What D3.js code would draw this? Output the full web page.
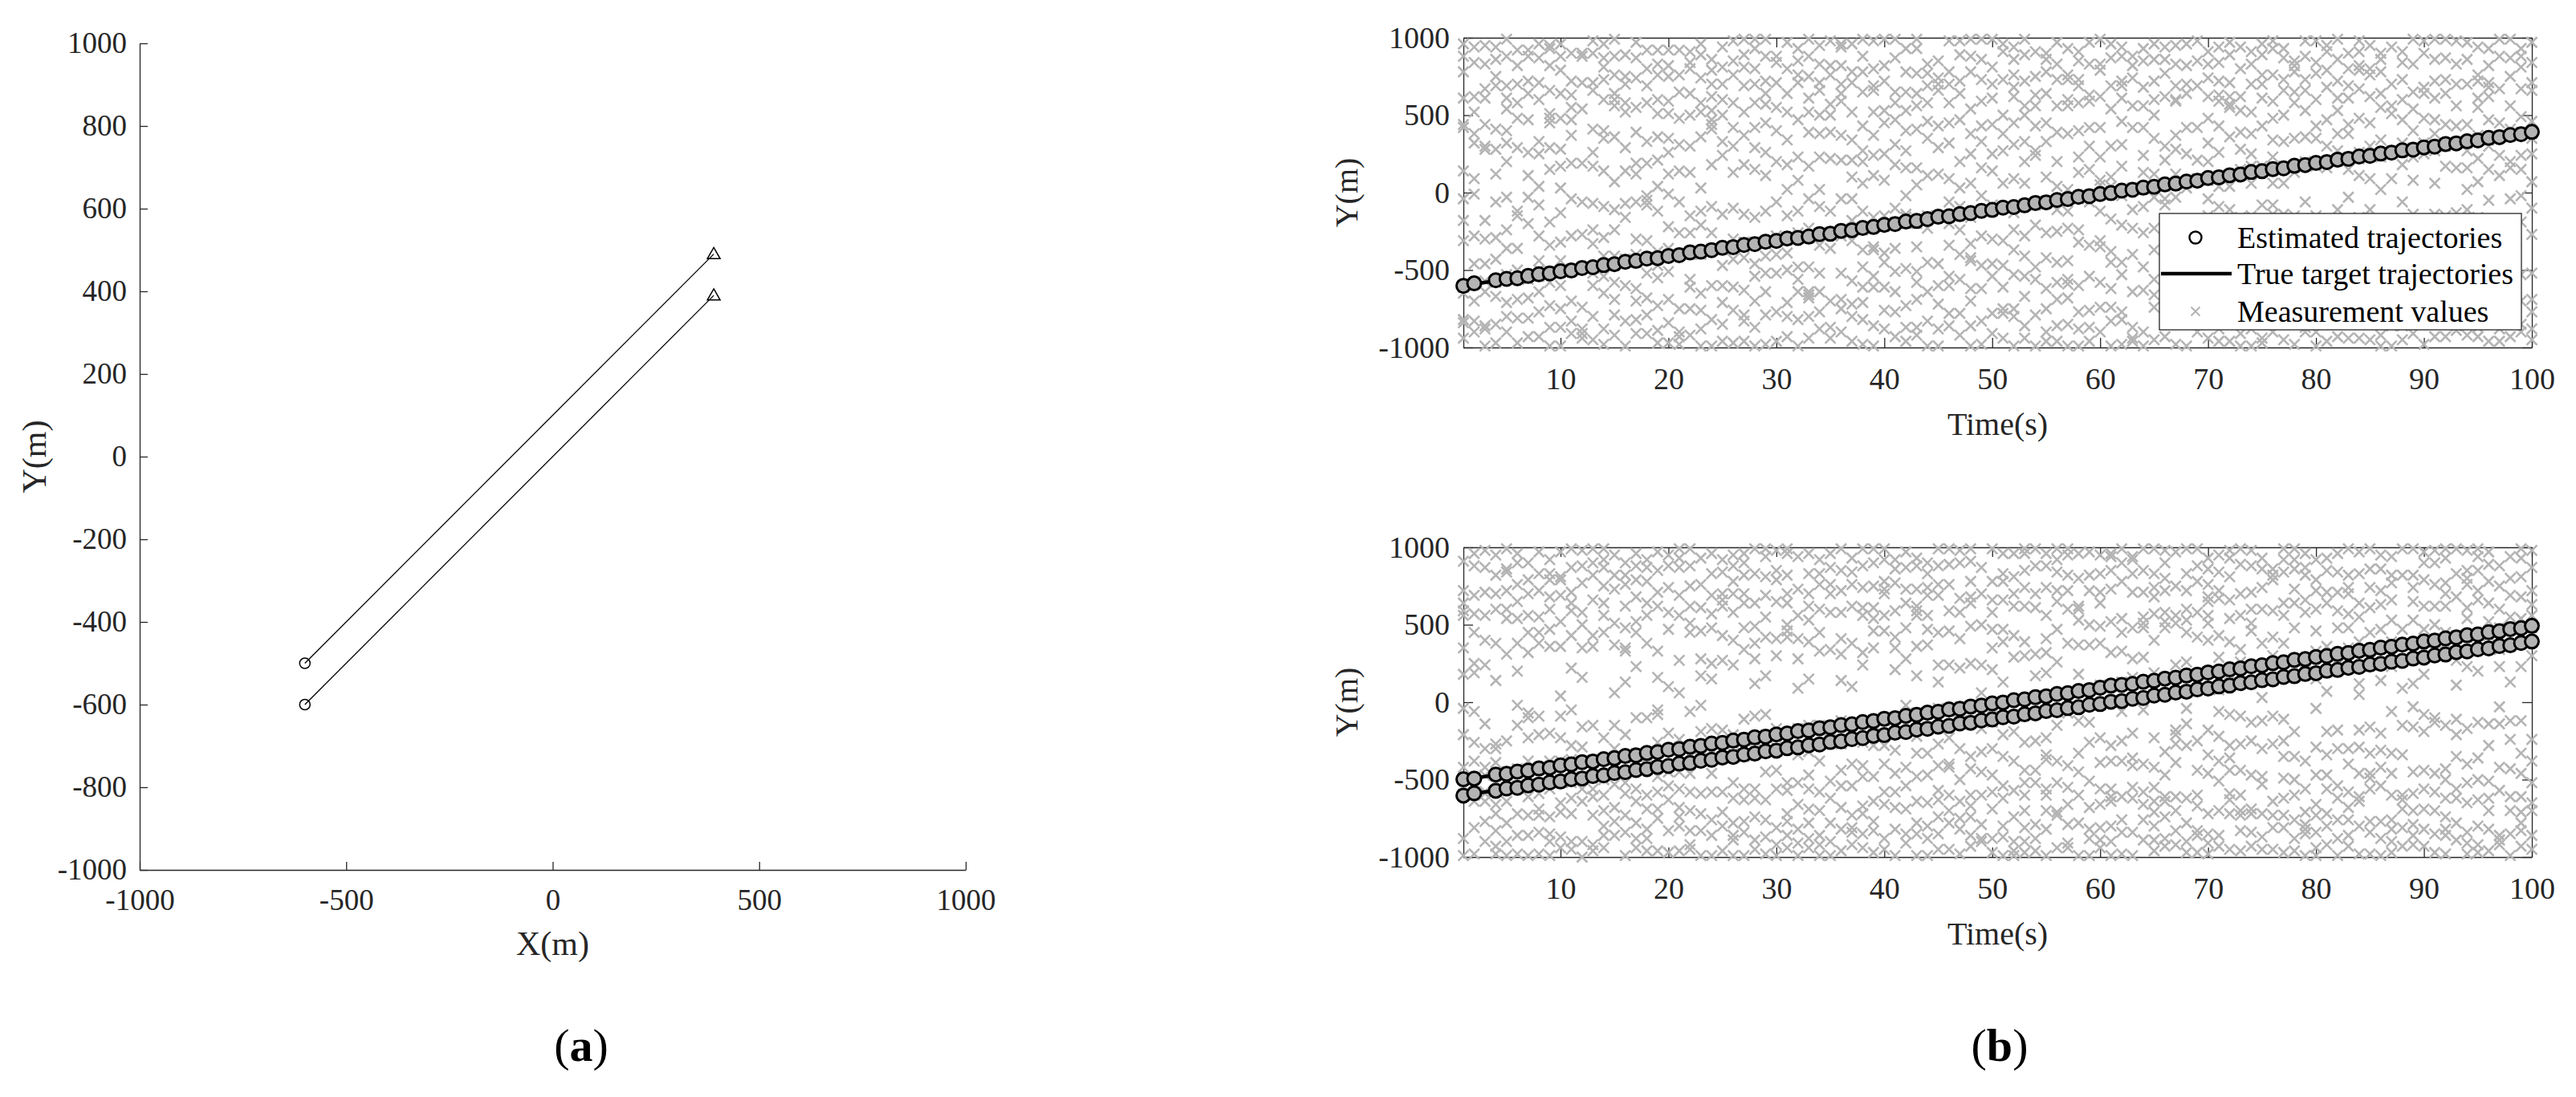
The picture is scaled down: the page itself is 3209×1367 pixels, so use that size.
<!DOCTYPE html>
<html>
<head>
<meta charset="utf-8">
<script src="https://cdn.jsdelivr.net/npm/d3@7"></script>
<style>
  body { margin: 0; background: #fff; }
  svg { display: block; }
</style>
</head>
<body>
<div id="wrapper"></div>
<script>
// ---- panel (a): trajectories in the X-Y plane ----
const trajStartX = [-600, -600];
const trajStartY = [-500, -600];
const trajEndX = [390, 390];
const trajEndY = [490, 390];
const aTicksX = [-1000, -500, 0, 500, 1000];
const aTicksY = [-1000, -800, -600, -400, -200, 0, 200, 400, 600, 800, 1000];

// ---- panel (b): Y position against time ----
const bTicksT = [10, 20, 30, 40, 50, 60, 70, 80, 90, 100];
const bTicksY = [-1000, -500, 0, 500, 1000];
const legendLabels = ["Estimated trajectories", "True target trajectories", "Measurement values"];

// true tracks, as [time, y] vertices
const trueTop = [[[1, -600], [100, 390]]];
const trueBot = [[[1, -500], [100, 490]], [[1, -600], [100, 390]]];

// estimated positions, one per time step (null = no estimate)
const estTop = [-602,-586,null,-566,-557,-553,-538,-527,-522,-508,
  -503,-487,-482,-468,-462,-447,-441,-426,-423,-409,
  -404,-386,-381,-372,-356,-352,-338,-333,-317,-312,
  -296,-293,-284,-268,-266,-247,-243,-228,-222,-208,
  -203,-187,-183,-171,-156,-153,-139,-132,-118,-112,
  -97,-93,-82,-67,-63,-48,-42,-27,-23,-9,
  -3,13,18,32,37,53,58,71,77,94,
  98,112,117,133,138,152,157,173,178,192,
  197,213,218,233,237,252,258,273,277,292,
  297,314,318,331,337,353,358,372,377,392];
const estBotA = [-498,-493,null,-467,-463,-448,-442,-428,-423,-408,
  -402,-387,-383,-368,-362,-347,-343,-328,-322,-307,
  -303,-288,-282,-267,-263,-248,-242,-227,-223,-208,
  -202,-187,-183,-168,-162,-148,-143,-128,-122,-107,
  -103,-88,-82,-68,-62,-47,-43,-28,-22,-8,
  -2,13,18,32,38,53,58,72,78,93,
  107,112,118,132,138,152,158,172,178,192,
  198,212,218,232,238,252,258,273,278,292,
  298,312,318,332,338,352,358,372,378,392,
  398,412,418,432,438,452,458,472,478,493];
const estBotB = [-603,-588,null,-572,-557,-553,-537,-532,-518,-512,
  -497,-493,-477,-473,-457,-452,-438,-432,-418,-412,
  -397,-393,-378,-372,-357,-353,-338,-332,-317,-313,
  -297,-292,-278,-273,-257,-253,-238,-232,-217,-213,
  -197,-193,-177,-172,-158,-153,-137,-133,-118,-112,
  -97,-93,-78,-72,-57,-52,-38,-33,-17,-12,
  3,7,22,27,43,48,62,68,83,88,
  102,107,123,128,142,148,163,168,182,187,
  203,208,222,228,243,248,262,267,282,288,
  302,308,323,328,342,347,363,368,382,392];

// target-originated measurements, one per time step
const measTrackTop = [-612,-583,-571,-578,-548,-556,-529,-541,-509,-517,
  -493,-482,-489,-461,-471,-442,-449,-418,-432,-403,
  -396,-379,-392,-361,-368,-341,-352,-322,-331,-302,
  -307,-281,-293,-262,-255,-258,-232,-241,-213,-219,
  -191,-199,-172,-178,-152,-161,-131,-138,-112,-121,
  -92,-99,-73,-81,-51,-58,-33,-41,-12,-18,
  9,2,28,21,49,41,68,61,88,79,
  109,101,128,119,147,141,168,161,187,179,
  206,202,229,219,249,241,268,259,288,281,
  308,299,327,321,349,339,367,362,388,381];
const measTrackBotA = [-489,-496,-472,-479,-452,-461,-432,-437,-418,-401,
  -391,-383,-372,-378,-351,-359,-333,-341,-317,-306,
  -289,-297,-274,-268,-252,-259,-231,-243,-212,-218,
  -196,-188,-172,-179,-152,-158,-138,-131,-113,-119,
  -98,-91,-69,-77,-52,-58,-31,-39,-13,-22,
  4,8,22,31,41,49,62,68,79,91,
  103,109,121,128,139,151,161,168,181,189,
  199,212,219,228,242,249,258,269,281,288,
  302,309,322,331,339,351,358,372,379,392,
  398,411,419,432,438,452,459,471,482,488];
const measTrackBotB = [-593,-601,-577,-571,-563,-549,-545,-528,-524,-511,
  -497,-493,-476,-472,-458,-451,-437,-432,-418,-408,
  -403,-386,-383,-372,-362,-348,-344,-329,-323,-313,
  -302,-288,-282,-268,-263,-252,-238,-232,-219,-213,
  -198,-193,-177,-173,-162,-147,-143,-128,-122,-113,
  -98,-87,-83,-67,-64,-48,-42,-33,-18,-12,
  2,7,23,27,42,48,61,73,78,92,
  97,112,118,127,143,147,163,168,177,193,
  198,212,218,232,237,252,257,271,278,293,
  298,309,323,327,342,348,361,368,383,388];

const clutterTop = [
[780,-820,420,-310,960,-650,140,-40,610,-940,440,-840,880,-180],
[940,-280,320,-700,620,-900,90,-460,840,-10,520,-830,380],
[670,-460,950,-860,280,-180,830,-640,440,-990,610,-300,300,-880],
[860,-560,410,-850,690,-290,120,-670,940,-60,280,-970,750,-430],
[540,-710,990,-360,400,-900,200,-530,690,-30,880,-800,320,-240,610],
[700,-500,290,-810,920,-360,480,-970,820,-150,-120,-690,580],
[720,-810,470,-30,920,-560,260,-930,640,-200,110,-680,880],
[710,-280,870,-640,40,-500,600,-930,330,-80,960,-770,250,-440],
[950,-580,820,-870,480,-190,660,-340,150,-990,930,-730,290,450,510],
[960,-130,640,-440,280,-870,790,-600,30,-320,480,-990,880,-750,170],
[630,-830,550,-500,190,-700,900,-280,370,-40,720,-910,470],
[540,-480,900,-740,190,-270,710,-910,-940,-60,880,-880],
[710,-330,900,-950,260,-520,660,-70,410,-800,170,-600,980,-240],
[870,-90,730,-540,350,-880,600,-290,140,-980,810,-410,960,-650,400],
[760,-410,880,-690,70,-240,560,-920,360,-580,990,-110,640,-790,600],
[750,-160,520,-600,890,-990,290,-430,700,-70,140,-830,580],
[970,-300,190,-700,870,-910,550,-60,390,-620,740,-820,120,-400],
[920,-790,330,-50,580,-520,800,-310,190,-910,690,-680,-20,-80],
[600,-890,830,-380,210,-470,920,-730,510,-120,360,-970,760,-550,40],
[820,-360,510,-690,120,-970,750,-220,350,-840,590,-10,920,-510,260],
[650,-900,480,-60,920,-750,310,-400,760,-260,140,-980,-930],
[800,-610,500,-150,910,-750,300,-920,640,-400,130,-560,840,-260],
[580,-880,360,-210,890,-650,30,-990,740,-400,520,-120,960,-760],
[700,-600,860,-90,440,-820,620,-370,180,-990,790,-260,530,470,410],
[940,-710,330,-470,600,-140,810,-850,240,-600,700,-960,500],
[980,-300,760,-610,420,-100,130,-970,580,-760,300,-430,850],
[890,-420,180,-830,690,-140,520,-960,810,-320,370,-630,990,-790],
[990,-540,700,-160,580,-870,290,-700,930,-320,420,-990,800,-460,150],
[570,-980,720,-330,450,-120,880,-790,260,-520,990,-640,110,-410,640],
[840,-960,400,-310,710,-520,200,-770,550,-60,880,-400,-280],
[640,-710,970,-150,340,-500,800,-930,180,-390,520,-800,20],
[850,-480,710,-820,230,-260,930,-640,470,-990,80,-120,760,-560],
[990,-680,610,-230,170,-940,750,-480,390,-800,520,-40,880,-640,-660],
[950,-520,710,-260,380,-880,20,-640,830,-90,500,-770,230,-340,660],
[820,-870,220,-120,570,-700,980,-360,390,-940,760,-260,500],
[640,-750,370,-280,960,-520,210,-900,700,-40,590,-690,820,940],
[780,-570,210,-800,960,-310,520,-40,340,-960,710,-720,100,-180],
[990,-370,270,-820,650,-120,780,-610,430,-980,60,-480,880,-710,200],
[980,-610,370,-160,690,-860,240,-350,520,-990,110,800,-540,660,-370],
[820,-760,530,-450,80,-610,990,-880,250,-150,720,-390,450],
[650,-770,180,-360,990,-640,470,-100,870,-930,310,-510,580,-200],
[930,-730,400,-140,650,-870,270,-490,780,-20,530,-960,160,-160],
[930,-510,160,-870,560,-350,770,-690,50,-920,640,-200,990,-580,410],
[830,-640,460,-830,690,-230,110,-990,770,-450,350,-150,580],
[740,-460,120,-880,660,-150,430,-720,850,-990,290,-600,700],
[780,-540,320,-60,980,-780,580,-340,90,-860,700,-600,450,-200],
[640,-560,890,-240,30,-780,470,-920,200,720,-400,-90,980],
[880,-440,250,-860,540,-160,780,-620,60,-990,380,-330,990,-700,-420],
[590,-280,860,-980,430,-620,160,-470,730,-830,990,-20,330],
[990,-460,250,-910,610,-80,440,-780,810,-300,140,-540,700],
[960,-780,270,-470,730,-310,60,-940,500,-610,910,-100,380,-750],
[620,-240,860,-750,90,-990,680,-530,450,-130,940,-800,310,-370,760],
[560,-670,200,-410,890,-860,60,-280,720,-540,990,-80,330,-940,500],
[560,-990,750,-210,430,-560,910,-60,270,-790,630,-480,240],
[860,-900,450,-420,640,-260,900,-750,100,-620,780,-70,330,-960],
[830,-450,560,-960,200,-690,970,-250,390,-580,730,-110,40,-860],
[560,-120,760,-680,380,-990,600,-440,930,-850,20,-230,730,-560,-590],
[910,-320,580,-770,230,-600,850,-20,400,-880,690,-240,130,-990,730],
[630,-870,150,-540,970,-60,420,-760,830,-340,590,-960,300],
[790,-350,420,-900,830,-580,50,-120,620,-740,990,-310,230,80],
[870,-380,100,-740,540,-990,690,-170,300,-620,960,-450,40,-830],
[610,-450,940,-980,310,-210,720,-820,460,-20,880,-530,170,-770,690],
[880,-110,560,-960,740,-640,30,-400,820,-870,420,-230,-940],
[850,-990,420,-260,130,-630,680,-900,560,-90,930,-480,240],
[720,-660,960,-30,500,-560,350,-950,860,-230,120,-740,600,-370],
[860,-250,300,-930,620,-580,50,770,-410,940,-720,210,-80,-40],
[600,-170,830,-710,370,-980,590,-300,950,-500,120,-770,690,-30,280],
[960,-420,640,-810,250,-990,820,-570,420,-250,30,-730,700],
[690,-250,980,-810,210,-530,850,-380,420,-900,90,-640,-220],
[620,-940,740,-250,200,-640,910,-40,480,-790,320,-470,830,-150],
[590,-960,720,-180,260,-560,940,-380,630,-880,40,-720,840,-90,430],
[890,-640,550,-380,40,-960,710,-240,360,-570,970,-110,620,-810,570],
[940,-230,620,-910,390,-650,800,-440,150,-990,530,-160,280],
[910,-700,250,-460,700,-880,60,520,-150,380,-990,830,-330,170],
[760,-650,960,-210,170,-570,700,-940,430,-360,610,-80,890,-970],
[930,-720,230,-540,590,-80,980,-360,340,-900,760,-630,480,-140,60],
[730,-140,500,-820,930,-370,60,-640,660,-950,330,-230,870,-720,170],
[780,-210,580,-980,130,-690,850,-420,350,-850,650,-150,820],
[880,-870,530,-60,730,-620,200,-430,980,-260,360,-900,660,-520],
[840,-150,600,-900,350,-470,980,-720,170,-310,770,-990,430,-620],
[950,-610,470,-400,790,-960,160,-720,680,-180,300,-850,910,-320,-350],
[720,-380,990,-640,270,-800,530,-110,860,-560,380,-930,610],
[690,-820,380,-170,900,-540,150,-720,610,-30,440,-940,800],
[910,-590,110,-940,820,-330,480,-790,670,-160,260,-630,980,790],
[760,-950,90,-520,620,-190,950,-680,300,-430,800,-840,450,-110],
[900,-620,340,-190,780,-920,550,-430,20,-700,860,-290,640,-990,230],
[560,-990,940,-680,510,-200,270,-760,700,-460,90,-860,-220],
[600,-950,320,-520,840,-60,470,-700,910,-280,180,-860,730],
[990,-730,400,-290,650,-560,830,-140,230,-910,540,-660,80,-390],
[680,-840,900,-500,320,-170,640,-760,980,-320,480,-980,250,-580,-530],
[610,-350,990,-670,270,-930,470,-140,720,-790,60,-420,860,-580,380],
[870,-150,440,-690,730,-930,170,-260,640,-810,990,-420,310],
[700,-890,160,-470,980,-130,430,-620,830,-300,560,-860],
[970,-560,160,-380,700,-840,440,-110,860,-650,270,-920,20,-460],
[720,-930,370,-700,70,-330,760,-160,550,-870,940,-490,220,-680,610],
[820,-600,150,-340,710,-960,470,-50,930,-720,300,-470,620,-180,680],
[880,-330,360,-740,990,-540,110,-880,670,-190,450,-960,240],
[750,-420,990,-930,410,-290,160,-660,870,-40,560,-780,200,-500],
[670,-900,390,-190,810,-700,240,-530,930,-20,490,-850,150,880],
[660,-770,970,-520,250,-880,70,-270,840,-690,460,-100,710,-950,350]
];
const clutterBot = [
[-880,640,-210,350,-560,910,-40,720,-990,180,-420,560,590],
[-640,960,-980,250,-380,690,-520,450,-60,880,-810,190,-260,570],
[-640,560,-300,980,-900,240,-590,710,-140,870,-770,400,-420],
[-930,950,-270,600,-720,380,-980,820,-510,140,-830,700,-390,-300,-660],
[-560,990,-900,720,-250,600,-780,860,-470,310,-990,540,-640,840],
[-980,200,-430,760,-720,540,-150,900,-860,380,-20,650,-540,960],
[-610,700,-860,560,-100,900,-730,320,-990,450,-380,790,-230,-70],
[-840,450,-590,830,-90,970,-690,380,-980,720,-210,550,-730],
[-850,600,-470,830,-990,360,-740,920,-200,680,-560,470,-900,790,-380],
[-710,810,-380,520,-940,40,-650,690,-230,970,-500,360,-870,790,-90],
[-620,430,-900,710,-50,990,-370,590,-720,220,-520,870,-280,640,-950],
[-640,770,-480,350,-900,980,-290,580,-1000,160,-560,880,-160,500],
[-610,990,-730,430,-150,820,-920,660,-450,360,-560,900,-960],
[-860,990,-700,560,-420,870,-940,750,-600,920,-230,640,-800,450,-500],
[-770,510,-430,730,-860,60,-300,950,-680,370,-150,820,-530],
[-990,820,-520,350,-840,620,-210,900,-730,130,-360,760,-590,480,330],
[-560,680,-780,960,-350,520,-880,230,-640,790,-100,450,-940,880],
[-820,870,-600,560,-960,380,-410,780,-690,920,-100,640,-880],
[-750,620,-80,850,-480,330,-960,710,-260,160,-690,970,-580,-50],
[-830,880,-300,470,-970,740,-450,100,-630,950,-200,580,-540],
[-680,990,-240,560,-960,270,-740,870,-450,60,-800,690,-340,930,-560],
[-580,880,-950,450,-700,990,-330,620,-830,510,-460,750,-60,-920],
[-990,460,-590,170,-830,760,-20,930,-360,610,-720,280,-190],
[-860,690,-580,960,-330,250,-760,480,-990,830,-170,570,-460,150],
[-960,620,-180,840,-580,430,-800,920,-350,270,-710,700,660],
[-860,700,-520,950,-780,240,-330,880,-990,580,-620,400,-890,780,-210],
[-770,900,-560,640,-990,820,-350,480,-840,960,-630,700,-110,340],
[-890,640,-90,990,-560,280,-740,830,-230,490,-950,120,-620,380,-250],
[-760,420,-980,690,-280,940,-630,550,-80,810,-450,170,-870,990],
[-810,790,-920,410,-170,980,-560,650,-440,300,-990,850,-290],
[-940,640,-720,960,-300,820,-570,500,-860,990,-520,420,-770,700,460],
[-910,410,-660,940,-170,560,-820,90,-340,730,-520,280,-990],
[-940,390,-560,960,-780,150,-320,700,-880,530,-150,830,-470,620,-690],
[-920,830,-700,330,-380,760,-150,600,-860,920,-580,450,-990,-170],
[-900,760,-780,580,-240,960,-510,340,-990,700,-620,870,-170],
[-820,580,-120,990,-680,310,-440,850,-960,140,-270,720,-540,410],
[-730,840,-400,100,-920,620,-210,760,-540,380,-810,930,-840],
[-720,880,-940,560,-260,990,-670,320,-130,740,-480,610,-850,240,-410],
[-770,900,-970,540,-280,750,-640,350,-480,990,-830,610,-140,460],
[-950,780,-280,990,-660,560,-880,700,-400,920,-580,460,730],
[-580,860,-310,420,-990,590,-680,210,-140,920,-820,350,-460,770],
[-850,730,-150,870,-690,480,-420,970,-910,280,-540,640,-20],
[-990,360,-640,880,-480,730,-220,560,-850,930,-330,170,-780,620,590],
[-650,830,-990,690,-470,470,-800,900,-330,560,-880,740,-160,370],
[-570,880,-270,690,-950,240,-740,450,-40,990,-630,130,-410,760,-850],
[-700,760,-950,240,-420,590,-230,890,-600,460,-50,990,-780,-400],
[-750,580,-120,900,-820,410,-500,980,-300,670,-980,220,-640],
[-740,680,-120,910,-930,490,-670,780,-430,250,-860,640,-350,990,-600],
[-600,700,-900,240,-170,870,-450,500,-790,60,-320,-880],
[-970,580,-130,780,-690,350,-470,990,-880,210,-300,660,-580,470,-40],
[-870,470,-350,780,-990,130,-540,960,-210,660,-800,390,-620,830],
[-990,620,-190,810,-570,430,-900,960,-380,290,-740,700,-960],
[-600,960,-970,390,-520,740,-810,850,-260,620,-700,990,-440,300,-900],
[-960,310,-520,880,-250,700,-790,170,-70,610,-440,990,-880],
[-560,960,-820,410,-370,740,-990,190,-600,880,-230,560,-700,320,-340],
[-730,920,-150,650,-940,470,-380,840,-710,260,-520,990,-60,720],
[-790,950,-550,380,-910,720,-660,820,-70,600,-410,990,-940],
[-780,530,-990,180,-330,800,-600,620,-120,960,-450,370,600],
[-880,500,-130,820,-680,20,-510,970,-820,370,-260,720,-990],
[-890,950,-560,640,-230,380,-940,830,-660,110,-390,710,-810,490,-20],
[-990,940,-640,320,-380,850,-800,520,-560,730,-900,960,-280,-610],
[-760,900,-250,450,-980,130,-610,780,-60,330,-840,540,-380,990],
[-550,920,-840,160,-410,710,-990,480,-200,940,-620,280,-360,830],
[-580,990,-760,290,-400,710,-890,480,-50,850,-660,550,510],
[-640,740,-420,990,-890,190,-710,570,-230,830,-960,400,-550,680,-800],
[-880,520,-640,900,-740,720,-320,980,-930,480,-470,800,-610,580],
[-700,750,-180,510,-920,240,-610,970,-390,60,-830,560,-270,-210],
[-900,600,-620,260,-40,990,-780,450,-280,830,-970,530,-140,720],
[-860,580,-440,990,-670,150,-830,780,-250,420,-600,880,-970],
[-910,510,-340,860,-720,650,-980,930,-180,400,-850,760,-460,560,680],
[-930,720,-220,430,-700,950,-510,80,-860,290,-380,670,-60,840],
[-590,930,-720,390,-280,660,-950,180,-440,810,-630,540,-80,980,-360],
[-600,700,-960,260,-440,890,-700,560,-90,990,-830,340,-270,-730],
[-690,460,-250,980,-840,710,-470,600,-720,880,-130,510,-930],
[-950,380,-480,740,-120,860,-720,200,-300,600,-870,30,930,-530],
[-810,790,-270,590,-950,300,-640,860,-90,420,-730,140,820],
[-810,640,-110,920,-620,380,-970,560,-350,840,-730,210,-490,990,-250],
[-880,860,-600,280,-960,640,-350,920,-760,480,-190,730,-500,990],
[-710,820,-850,580,-380,960,-990,660,-560,260,-790,870,-820],
[-840,460,-730,790,-40,600,-940,330,-470,920,-290,150,-660,720,-990],
[-720,850,-190,640,-920,360,-560,930,-340,70,-800,710,-470],
[-620,840,-880,480,-300,710,-990,310,-540,960,-760,590,-180,240,270],
[-680,740,-860,990,-400,570,-930,350,-580,820,-760,480,-300,700],
[-640,970,-460,120,-800,640,-290,830,-980,390,-610,50,-180,550],
[-770,610,-460,860,-980,270,-160,740,-560,990,-330,450,-840,-490],
[-990,860,-310,470,-770,720,-540,140,-880,950,-200,630,-420],
[-820,820,-900,660,-60,940,-600,390,-970,530,-330,770,-760,230,-460],
[-690,820,-340,90,-930,470,-150,990,-600,260,-810,-630],
[-920,370,-700,820,-160,530,-860,990,-450,120,-590,740,-30,650,-790],
[-930,900,-690,470,-190,790,-820,330,-440,970,-560,620,-80,180],
[-700,500,-850,900,-460,760,-130,620,-970,330,-580,980,-100],
[-980,700,-430,930,-820,450,-150,770,-620,990,-860,380,-500,620,-740],
[-620,990,-350,110,-890,680,-560,430,-210,830,-780,270,-110],
[-980,540,-400,980,-650,230,-840,760,-170,610,-520,420,-910,850,800],
[-970,720,-360,940,-800,200,-500,660,-130,850,-920,430,-630,990],
[-960,970,-620,520,-820,780,-280,430,-700,890,-140,640,-510],
[-860,340,-140,880,-570,600,-920,230,-420,750,-30,480,-890],
[-990,800,-240,550,-610,130,-850,940,-430,360,-700,690,-120],
[-830,540,-710,990,-120,680,-460,810,-930,390,-610,230,-330,930,-780],
[-950,560,-380,870,-650,480,-860,980,-240,720,-700,300,-520,630]
];

const W = 3209, H = 1367;
const FONT = "'Liberation Serif', 'Times New Roman', serif";
const INK = "#262626";
const GREY = "#b4b4b4";

const svg = d3.select("#wrapper").append("svg")
    .attr("width", W)
    .attr("height", H)
    .style("font-family", FONT);

function styleAxis(g, fontSize) {
    g.attr("font-family", FONT).attr("font-size", fontSize);
    g.selectAll("path, line").attr("stroke", INK).attr("stroke-width", 1.3);
    g.selectAll("text").attr("fill", INK);
}

const fmt = d => String(d);

// ================= panel (a) =================
const dimA = { left: 174, right: 1203, top: 54, bottom: 1084 };
const xA = d3.scaleLinear().domain([-1000, 1000]).range([dimA.left, dimA.right]);
const yA = d3.scaleLinear().domain([-1000, 1000]).range([dimA.bottom, dimA.top]);

svg.append("g")
    .attr("transform", `translate(0,${dimA.bottom})`)
    .call(d3.axisBottom(xA).tickValues(aTicksX).tickFormat(fmt).tickSize(-10).tickSizeOuter(0).tickPadding(24))
    .call(g => styleAxis(g, 37));

svg.append("g")
    .attr("transform", `translate(${dimA.left},0)`)
    .call(d3.axisLeft(yA).tickValues(aTicksY).tickFormat(fmt).tickSize(-10).tickSizeOuter(0).tickPadding(16))
    .call(g => styleAxis(g, 37));

const trajA = trajStartX.map((x, i) => ({ x0: x, y0: trajStartY[i], x1: trajEndX[i], y1: trajEndY[i] }));

svg.append("g").selectAll("line")
    .data(trajA)
    .join("line")
    .attr("x1", d => xA(d.x0)).attr("y1", d => yA(d.y0))
    .attr("x2", d => xA(d.x1)).attr("y2", d => yA(d.y1))
    .attr("stroke", "#000").attr("stroke-width", 1.3);

svg.append("g").selectAll("circle")
    .data(trajA)
    .join("circle")
    .attr("cx", d => xA(d.x0)).attr("cy", d => yA(d.y0))
    .attr("r", 6.5)
    .attr("fill", "none").attr("stroke", "#000").attr("stroke-width", 1.5);

const tri = d3.symbol().type(d3.symbolTriangle).size(110);
svg.append("g").selectAll("path")
    .data(trajA)
    .join("path")
    .attr("transform", d => `translate(${xA(d.x1)},${yA(d.y1) + 1})`)
    .attr("d", tri)
    .attr("fill", "none").attr("stroke", "#000").attr("stroke-width", 1.5);

svg.append("text")
    .attr("x", (dimA.left + dimA.right) / 2).attr("y", 1175)
    .attr("dy", "0.35em").attr("text-anchor", "middle")
    .style("font-size", "42px").attr("fill", INK)
    .text("X(m)");

svg.append("text")
    .attr("transform", `translate(42,${yA(0)}) rotate(-90)`)
    .attr("dy", "0.35em").attr("text-anchor", "middle")
    .style("font-size", "42px").attr("fill", INK)
    .text("Y(m)");

function panelTag(x, letter) {
    const t = svg.append("text")
        .attr("x", x).attr("y", 1302)
        .attr("dy", "0.35em").attr("text-anchor", "middle")
        .style("font-size", "58px").attr("fill", "#000");
    t.append("tspan").text("(");
    t.append("tspan").style("font-weight", "bold").text(letter);
    t.append("tspan").text(")");
}
panelTag(724, "a");
panelTag(2491, "b");

// ================= panel (b) =================
function crossPath(cx, cy, s) {
    return `M${cx - s},${cy - s}L${cx + s},${cy + s}M${cx - s},${cy + s}L${cx + s},${cy - s}`;
}

function drawSub(dim, clutter, trackMeas, trueLines, estimates, withLegend) {
    const x = d3.scaleLinear().domain([1, 100]).range([dim.left, dim.right]);
    const y = d3.scaleLinear().domain([-1000, 1000]).range([dim.bottom, dim.top]);
    const g = svg.append("g");

    // box with inward ticks on all sides
    g.append("g").attr("transform", `translate(0,${dim.bottom})`)
        .call(d3.axisBottom(x).tickValues(bTicksT).tickFormat(fmt).tickSize(-12).tickSizeOuter(0).tickPadding(25))
        .call(a => styleAxis(a, 38));
    g.append("g").attr("transform", `translate(0,${dim.top})`)
        .call(d3.axisTop(x).tickValues(bTicksT).tickFormat("").tickSize(-12).tickSizeOuter(0))
        .call(a => styleAxis(a, 38));
    g.append("g").attr("transform", `translate(${dim.left},0)`)
        .call(d3.axisLeft(y).tickValues(bTicksY).tickFormat(fmt).tickSize(-12).tickSizeOuter(0).tickPadding(17))
        .call(a => styleAxis(a, 38));
    g.append("g").attr("transform", `translate(${dim.right},0)`)
        .call(d3.axisRight(y).tickValues(bTicksY).tickFormat("").tickSize(-12).tickSizeOuter(0))
        .call(a => styleAxis(a, 38));

    // measurements
    const pts = [];
    clutter.forEach((row, i) => row.forEach(v => pts.push({ t: i + 1, v: v })));
    trackMeas.forEach(arr => arr.forEach((v, i) => pts.push({ t: i + 1, v: v })));
    g.append("g").selectAll("path")
        .data(pts)
        .join("path")
        .attr("d", d => crossPath(x(d.t), y(d.v), 6.5))
        .attr("stroke", GREY).attr("stroke-width", 2.6).attr("fill", "none");

    // true trajectories
    const line = d3.line().x(d => x(d[0])).y(d => y(d[1]));
    g.append("g").selectAll("path")
        .data(trueLines)
        .join("path")
        .attr("d", line)
        .attr("stroke", "#000").attr("stroke-width", 4.5).attr("fill", "none");

    // estimates
    const est = [];
    estimates.forEach(arr => arr.forEach((v, i) => { if (v !== null) est.push({ t: i + 1, v: v }); }));
    g.append("g").selectAll("circle")
        .data(est)
        .join("circle")
        .attr("cx", d => x(d.t)).attr("cy", d => y(d.v))
        .attr("r", 8.5)
        .attr("fill", GREY).attr("stroke", "#000").attr("stroke-width", 3);

    // axis labels
    g.append("text")
        .attr("x", (dim.left + dim.right) / 2).attr("y", dim.bottom + 95)
        .attr("dy", "0.35em").attr("text-anchor", "middle")
        .style("font-size", "40px").attr("fill", INK)
        .text("Time(s)");
    g.append("text")
        .attr("transform", `translate(1677,${y(0)}) rotate(-90)`)
        .attr("dy", "0.35em").attr("text-anchor", "middle")
        .style("font-size", "40px").attr("fill", INK)
        .text("Y(m)");

    if (withLegend) {
        const lx = 2690, ly = dim.top + 219, lw = 451, lh = 145;
        const lg = g.append("g");
        lg.append("rect")
            .attr("x", lx).attr("y", ly).attr("width", lw).attr("height", lh)
            .attr("fill", "#fff").attr("stroke", INK).attr("stroke-width", 1.3);
        const rowY = [ly + 30, ly + 75, ly + 122];
        lg.append("circle").attr("cx", lx + 45).attr("cy", rowY[0]).attr("r", 7.5)
            .attr("fill", "#fff").attr("stroke", "#000").attr("stroke-width", 2.4);
        lg.append("line").attr("x1", lx + 2).attr("x2", lx + 90).attr("y1", rowY[1]).attr("y2", rowY[1])
            .attr("stroke", "#000").attr("stroke-width", 4.5);
        lg.append("path").attr("d", crossPath(lx + 45, rowY[2], 5.5))
            .attr("stroke", GREY).attr("stroke-width", 2).attr("fill", "none");
        lg.selectAll("text")
            .data(legendLabels)
            .join("text")
            .attr("x", lx + 97).attr("y", (d, i) => rowY[i])
            .attr("dy", "0.35em")
            .style("font-size", "38px").attr("fill", "#000")
            .text(d => d);
    }
}

drawSub({ left: 1823, right: 3154, top: 47, bottom: 433 },
    clutterTop, [measTrackTop], trueTop, [estTop], true);
drawSub({ left: 1823, right: 3154, top: 682, bottom: 1068 },
    clutterBot, [measTrackBotA, measTrackBotB], trueBot, [estBotA, estBotB], false);
</script>
</body>
</html>
